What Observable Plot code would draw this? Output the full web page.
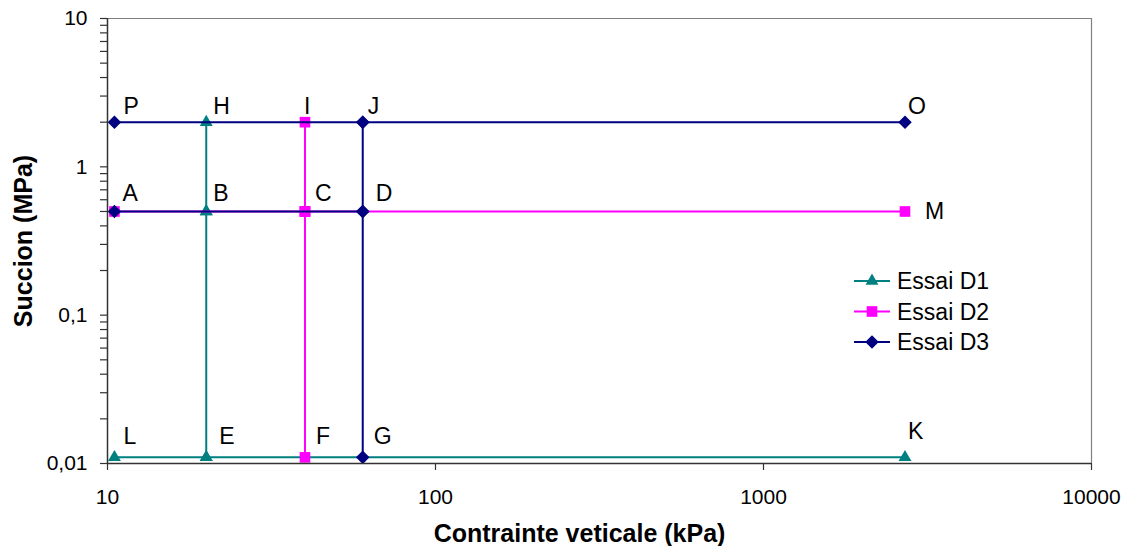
<!DOCTYPE html>
<html>
<head>
<meta charset="utf-8">
<script src="https://cdn.jsdelivr.net/npm/d3@7"></script>
<script src="https://cdn.jsdelivr.net/npm/@observablehq/plot@0.6"></script>
<style>
  html, body { margin: 0; padding: 0; background: #fff; }
  #chart svg { display: block; font-family: "Liberation Sans", Arial, sans-serif; }
</style>
</head>
<body>
<div id="chart"></div>
<script>
// ---- data (path order, as plotted) ----
const seriesNames = ["Essai D1", "Essai D2", "Essai D3"];
const d1X = [10.5, 20, 20, 20, 20, 20, 2700];
const d1Y = [0.011, 0.011, 0.5, 2, 0.5, 0.011, 0.011];
const d2X = [10.5, 40, 40, 40, 40, 40, 2700];
const d2Y = [0.5, 0.5, 2, 0.5, 0.011, 0.5, 0.5];
const d3X = [10.5, 60, 60, 60, 60, 10.5, 60, 2700];
const d3Y = [0.5, 0.5, 0.011, 0.5, 2, 2, 2, 2];

const pointNames = ["P", "H", "I", "J", "O", "A", "B", "C", "D", "M", "L", "E", "F", "G", "K"];
const pointX = [10.5, 20, 40, 60, 2700, 10.5, 20, 40, 60, 2700, 10.5, 20, 40, 60, 2700];
const pointY = [2, 2, 2, 2, 2, 0.5, 0.5, 0.5, 0.5, 0.5, 0.011, 0.011, 0.011, 0.011, 0.011];

const xTicks = [10, 100, 1000, 10000];
const xTickLabels = ["10", "100", "1000", "10000"];
const yMajor = [0.01, 0.1, 1, 10];
const yMajorLabels = ["0,01", "0,1", "1", "10"];
const yMinorMult = [1, 2, 3, 4, 5, 6, 7, 8, 9];

const xLabel = "Contrainte veticale (kPa)";
const yLabel = "Succion (MPa)";

// ---- styles ----
const colors = ["#008080", "#FF00FF", "#000080"];
const labelOffsets = {
  P: [9, -16], H: [7, -16], I: [-1, -16], J: [5, -16], O: [3, -16],
  A: [8, -18], B: [7, -18], C: [10, -18], D: [13, -18], M: [20, 0],
  L: [9, -21], E: [13, -21], F: [11, -21], G: [11, -21], K: [3, -26]
};
const rTri = 4.8, rSq = 6.0, rDia = 5.4;

// ---- build tables ----
const mk = (xs, ys, s) => xs.map((x, i) => ({x, y: ys[i], s}));
const d1 = mk(d1X, d1Y, seriesNames[0]);
const d2 = mk(d2X, d2Y, seriesNames[1]);
const d3 = mk(d3X, d3Y, seriesNames[2]);
const pts = pointNames.map((n, i) => ({n, x: pointX[i], y: pointY[i]}));
const yTicksAll = [];
for (const m of yMajor.slice(0, 3)) for (const k of yMinorMult) yTicksAll.push(m * k);
yTicksAll.push(10);
const yFmt = d => { const i = yMajor.findIndex(v => Math.abs(v - d) / v < 1e-6); return i >= 0 ? yMajorLabels[i] : ""; };
const xFmt = d => { const i = xTicks.findIndex(v => Math.abs(v - d) / v < 1e-6); return i >= 0 ? xTickLabels[i] : ""; };

const FONT = "\"Liberation Sans\", Arial, sans-serif";

const labelMarks = pts.map(p => Plot.text([p], {
  x: "x", y: "y", text: "n", textAnchor: "start",
  dx: labelOffsets[p.n][0], dy: labelOffsets[p.n][1],
  fontSize: 23, fill: "#000"
}));

const chart = Plot.plot({
  width: 1133,
  height: 546,
  marginLeft: 107,
  marginRight: 42,
  marginTop: 18,
  marginBottom: 83,
  style: {fontFamily: FONT, background: "#fff"},
  x: {type: "log", domain: [10, 10000]},
  y: {type: "log", domain: [0.01, 10]},
  marks: [
    Plot.ruleY([10], {stroke: "#808080", strokeWidth: 1.2}),
    Plot.ruleX([10000], {stroke: "#808080", strokeWidth: 1.2}),
    Plot.axisX({ticks: xTicks, tickFormat: xFmt, tickSize: 7, tickPadding: 19, fontSize: 21, stroke: "#333", strokeWidth: 1.2, label: null}),
    Plot.axisY({ticks: yTicksAll, tickFormat: yFmt, tickSize: 7, tickPadding: 13, fontSize: 21, stroke: "#333", strokeWidth: 1.2, label: null}),
    Plot.line(d1, {x: "x", y: "y", stroke: colors[0], strokeWidth: 2}),
    Plot.dot(d1, {x: "x", y: "y", symbol: "triangle", r: rTri, fill: colors[0], stroke: "none"}),
    Plot.line(d2, {x: "x", y: "y", stroke: colors[1], strokeWidth: 2}),
    Plot.dot(d2, {x: "x", y: "y", symbol: "square", r: rSq, fill: colors[1], stroke: "none"}),
    Plot.line(d3, {x: "x", y: "y", stroke: colors[2], strokeWidth: 2}),
    Plot.dot(d3, {x: "x", y: "y", symbol: "square", r: rDia, rotate: 45, fill: colors[2], stroke: "none"}),
    Plot.ruleX([10], {stroke: "#333", strokeWidth: 1.5}),
    Plot.ruleY([0.01], {stroke: "#333", strokeWidth: 1.5}),
    ...labelMarks,
    Plot.text([yLabel], {frameAnchor: "left", textAnchor: "middle", lineAnchor: "middle", dx: -84, rotate: -90, fontSize: 25, fontWeight: "bold", fill: "#000"}),
    Plot.text([xLabel], {frameAnchor: "bottom", textAnchor: "middle", lineAnchor: "middle", dx: -20, dy: 70, fontSize: 25, fontWeight: "bold", fill: "#000"})
  ]
});

document.getElementById("chart").appendChild(chart);

// ---- legend (inside the SVG, plain DOM) ----
const NS = "http://www.w3.org/2000/svg";
const el = (tag, attrs, parent) => {
  const e = document.createElementNS(NS, tag);
  for (const k in attrs) e.setAttribute(k, attrs[k]);
  parent.appendChild(e);
  return e;
};
const lg = el("g", {"class": "legend", "text-anchor": "start"}, chart);
const symPath = (i, cx, cy) => {
  if (i === 0) { // equilateral triangle, area = pi r^2
    const a = Math.PI * rTri * rTri;
    const yy = -Math.sqrt(a / (Math.sqrt(3) * 3));
    const s3 = Math.sqrt(3);
    return `M${cx},${cy + 2 * yy}L${cx - s3 * yy},${cy - yy}L${cx + s3 * yy},${cy - yy}Z`;
  }
  if (i === 1) {
    const h = Math.sqrt(Math.PI * rSq * rSq) / 2;
    return `M${cx - h},${cy - h}h${2 * h}v${2 * h}h${-2 * h}Z`;
  }
  const d = Math.sqrt(Math.PI * rDia * rDia) / Math.SQRT2;
  return `M${cx},${cy - d}L${cx + d},${cy}L${cx},${cy + d}L${cx - d},${cy}Z`;
};
seriesNames.forEach((name, i) => {
  const y = 281 + i * 30.5;
  el("line", {x1: 854, x2: 890, y1: y, y2: y, stroke: colors[i], "stroke-width": 2}, lg);
  el("path", {d: symPath(i, 872, y), fill: colors[i]}, lg);
  const t = el("text", {x: 897, y: y, dy: "0.35em", "text-anchor": "start", "font-size": 23, "font-family": FONT, fill: "#000"}, lg);
  t.textContent = name;
});
</script>
</body>
</html>
